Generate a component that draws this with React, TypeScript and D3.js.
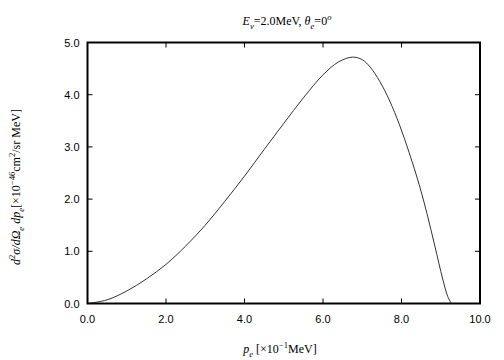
import React, { useEffect, useRef } from "react";
import * as d3 from "d3";

// electron momentum p_e [x10^-1 MeV] and d2sigma/dOmega dp_e [x10^-46 cm2/sr MeV]
const momentum = [0, 0.5, 1.0, 1.5, 2.0, 2.5, 3.0, 3.5, 4.0, 4.5, 5.0, 5.5, 6.0, 6.4, 6.75, 7.0, 7.2, 7.45, 7.7, 7.95, 8.2, 8.45, 8.65, 8.85, 9.05, 9.18, 9.27];
const crossSection = [0, 0.07, 0.24, 0.47, 0.75, 1.1, 1.5, 1.96, 2.44, 2.95, 3.45, 3.94, 4.38, 4.63, 4.72, 4.67, 4.53, 4.25, 3.88, 3.42, 2.88, 2.28, 1.72, 1.1, 0.47, 0.13, 0];

const xTicks = [0, 2, 4, 6, 8, 10];
const yTicks = [0, 1, 2, 3, 4, 5];

type Seg = { t: string; it?: boolean; pos?: "sub" | "sup" };

const titleSegs: Seg[] = [
  { t: "E", it: true },
  { t: "ν", it: true, pos: "sub" },
  { t: "=2.0MeV,  " },
  { t: "θ", it: true },
  { t: "e", it: true, pos: "sub" },
  { t: "=0" },
  { t: "o", it: true, pos: "sup" }
];

const yLabelSegs: Seg[] = [
  { t: "d", it: true },
  { t: "2", pos: "sup" },
  { t: "σ/", it: true },
  { t: "d", it: true },
  { t: "Ω", it: true },
  { t: "e", it: true, pos: "sub" },
  { t: " " },
  { t: "dp", it: true },
  { t: "e", it: true, pos: "sub" },
  { t: "[×10" },
  { t: "−46", pos: "sup" },
  { t: "cm" },
  { t: "2", pos: "sup" },
  { t: "/sr MeV]" }
];

const xLabelSegs: Seg[] = [
  { t: "p", it: true },
  { t: "e", it: true, pos: "sub" },
  { t: " [×10" },
  { t: "−1", pos: "sup" },
  { t: "MeV]" }
];

const writeRich = (text: any, segs: Seg[], size: number) => {
  let shift = 0;
  segs.forEach(s => {
    const target = s.pos === "sub" ? size * 0.3 : s.pos === "sup" ? -size * 0.4 : 0;
    text
      .append("tspan")
      .attr("dy", target - shift)
      .attr("font-style", s.it ? "italic" : "normal")
      .attr("font-size", s.pos ? size * 0.72 : size)
      .text(s.t);
    shift = target;
  });
};

const drawChart = (el: SVGSVGElement) => {
  const dims = { width: 504, height: 360 };
  const m = { left: 87.5, right: 24, top: 42.5, bottom: 56.5 };

  const svg = d3.select(el);
  svg.selectAll("*").remove();

  const x = d3.scaleLinear().domain([0, 10]).range([m.left, dims.width - m.right]);
  const y = d3.scaleLinear().domain([0, 5]).range([dims.height - m.bottom, m.top]);

  const serif = "'Liberation Serif', 'DejaVu Serif', serif";
  const sans = "'Liberation Sans', Arimo, 'DejaVu Sans', sans-serif";

  // ticks on all four sides, pointing inward
  const tickLen = 5;
  const g = svg.append("g").attr("stroke", "#000").attr("stroke-width", 1);
  xTicks.slice(1, -1).forEach(t => {
    g.append("line").attr("x1", x(t)).attr("x2", x(t)).attr("y1", y(0)).attr("y2", y(0) - tickLen);
    g.append("line").attr("x1", x(t)).attr("x2", x(t)).attr("y1", y(5)).attr("y2", y(5) + tickLen);
  });
  yTicks.slice(1, -1).forEach(t => {
    g.append("line").attr("x1", x(0)).attr("x2", x(0) + tickLen).attr("y1", y(t)).attr("y2", y(t));
    g.append("line").attr("x1", x(10)).attr("x2", x(10) - tickLen).attr("y1", y(t)).attr("y2", y(t));
  });

  const line = d3
    .line<number>()
    .x((d, i) => x(momentum[i]))
    .y(d => y(d))
    .curve(d3.curveCatmullRom.alpha(0.5));

  svg
    .append("path")
    .datum(crossSection)
    .attr("fill", "none")
    .attr("stroke", "#333")
    .attr("stroke-width", 1)
    .attr("d", line);

  svg
    .append("rect")
    .attr("x", x(0))
    .attr("y", y(5))
    .attr("width", x(10) - x(0))
    .attr("height", y(0) - y(5))
    .attr("fill", "none")
    .attr("stroke", "#000")
    .attr("stroke-width", 2);

  svg
    .selectAll(".xlab")
    .data(xTicks)
    .enter()
    .append("text")
    .attr("x", d => x(d))
    .attr("y", y(0) + 19)
    .attr("text-anchor", "middle")
    .attr("font-family", sans)
    .attr("font-size", 11)
    .text(d => d.toFixed(1));

  svg
    .selectAll(".ylab")
    .data(yTicks)
    .enter()
    .append("text")
    .attr("x", x(0) - 8)
    .attr("y", d => y(d) + 4)
    .attr("text-anchor", "end")
    .attr("font-family", sans)
    .attr("font-size", 11)
    .text(d => d.toFixed(1));

  const title = svg
    .append("text")
    .attr("x", 287)
    .attr("y", 25)
    .attr("text-anchor", "middle")
    .attr("font-family", serif)
    .attr("font-size", 12);
  writeRich(title, titleSegs, 12);

  const xl = svg
    .append("text")
    .attr("x", 280)
    .attr("y", 353)
    .attr("text-anchor", "middle")
    .attr("font-family", serif)
    .attr("font-size", 12);
  writeRich(xl, xLabelSegs, 12);

  const yl = svg
    .append("text")
    .attr("transform", "translate(20, 187) rotate(-90)")
    .attr("text-anchor", "middle")
    .attr("font-family", serif)
    .attr("font-size", 12);
  writeRich(yl, yLabelSegs, 12);
};

function App() {
  const ref = useRef<SVGSVGElement>(null);
  useEffect(() => {
    if (ref.current) drawChart(ref.current);
  }, []);

  return (
    <svg
      ref={ref}
      width={504}
      height={360}
      style={{ position: "absolute", left: 0, top: 0, background: "#fff" }}
    />
  );
}

export default App;
